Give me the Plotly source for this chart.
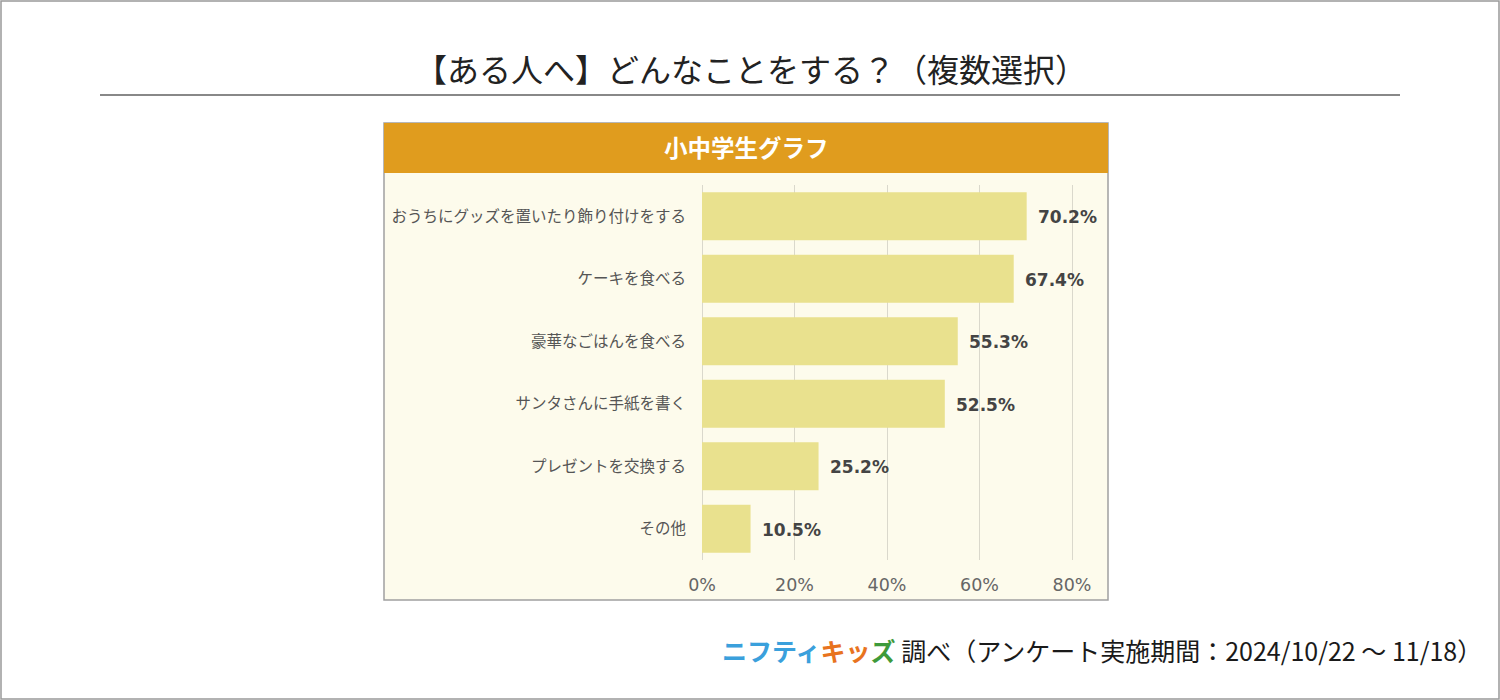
import plotly.graph_objects as go

categories = ["おうちにグッズを置いたり飾り付けをする", "ケーキを食べる", "豪華なごはんを食べる",
              "サンタさんに手紙を書く", "プレゼントを交換する", "その他"]
values = [70.2, 67.4, 55.3, 52.5, 25.2, 10.5]
tick_vals = [0, 20, 40, 60, 80]
tick_text = ["0%", "20%", "40%", "60%", "80%"]

title_text = "【ある人へ】どんなことをする？（複数選択）"
header_text = "小中学生グラフ"

W, H = 1500, 700
PL, PR, PT, PB = 702, 1100, 185, 560  # plot area in pixels
X_MAX = 80 * (PR - PL) / 370.0

def px(x):
    return (x - PL) / (PR - PL)

def py(y):
    return (PB - y) / (PB - PT)

JP = "Noto Sans CJK JP"
CREAM = "#FDFBEC"

fig = go.Figure()
fig.add_trace(go.Bar(
    x=values, y=categories, orientation="h",
    marker=dict(color="#E9E18E", line=dict(width=0)),
    hoverinfo="skip",
))

annotations = []
for c, v in zip(categories, values):
    annotations.append(dict(
        x=v, y=c, xref="x", yref="y", text=f"{v:.1f}%", showarrow=False,
        xanchor="left", xshift=9, yshift=-1,
        font=dict(family="DejaVu Sans", size=17, color="#444444", weight="bold"),
    ))

# title
annotations.append(dict(x=px(751), y=py(68), xref="paper", yref="paper", text=title_text,
                        showarrow=False, xanchor="center", yanchor="middle",
                        font=dict(family=JP, size=32, color="#222222")))
# header
annotations.append(dict(x=px(746), y=py(147), xref="paper", yref="paper", text=header_text,
                        showarrow=False, xanchor="center", yanchor="middle",
                        font=dict(family=JP, size=23.5, color="#FFFFFF", weight="bold")))
# footer
footer = ('<b><span style="color:#3AA0DC">ニフティ</span>'
          '<span style="color:#E8731E">キッ</span>'
          '<span style="color:#3E9A3A">ズ</span></b>'
          ' 調べ（アンケート実施期間：2024/10/22 ～ 11/18）')
annotations.append(dict(x=px(1484), y=py(650), xref="paper", yref="paper", text=footer,
                        showarrow=False, xanchor="right", yanchor="middle",
                        font=dict(family=JP, size=25, color="#1A1A1A")))

shapes = [
    # outer border
    dict(type="rect", xref="paper", yref="paper", x0=px(1), x1=px(1499), y0=py(1), y1=py(699),
         line=dict(color="#999999", width=1.5), fillcolor="rgba(0,0,0,0)", layer="below"),
    # title underline
    dict(type="line", xref="paper", yref="paper", x0=px(100), x1=px(1400), y0=py(95), y1=py(95),
         line=dict(color="#888888", width=2)),
    # chart box
    dict(type="rect", xref="paper", yref="paper", x0=px(384), x1=px(1108), y0=py(123), y1=py(600),
         line=dict(color="#A0A0A0", width=1.5), fillcolor=CREAM, layer="below"),
    # header
    dict(type="rect", xref="paper", yref="paper", x0=px(384), x1=px(1108), y0=py(123), y1=py(173),
         line=dict(width=0), fillcolor="#E09C1E", layer="below"),
]

fig.update_layout(
    width=W, height=H,
    margin=dict(l=PL, r=W - PR, t=PT, b=H - PB, pad=0),
    paper_bgcolor="#FFFFFF", plot_bgcolor=CREAM,
    showlegend=False, bargap=0.23,
    annotations=annotations, shapes=shapes,
    xaxis=dict(range=[0, X_MAX], tickvals=tick_vals, ticktext=tick_text,
               showgrid=True, gridcolor="#DAD8CC", gridwidth=1,
               zeroline=True, zerolinecolor="#DAD8CC", zerolinewidth=1,
               showline=False, ticks="", ticklabelstandoff=12,
               tickfont=dict(family="DejaVu Sans", size=17.5, color="#666666"), fixedrange=True),
    yaxis=dict(autorange="reversed", showgrid=False, zeroline=False, showline=False, ticks="",
               ticklabelstandoff=15,
               tickfont=dict(family=JP, size=15.5, color="#555555"), fixedrange=True),
)

fig.write_html("out.html", config={"displayModeBar": False},
               post_script="document.body.style.margin='0';document.body.style.overflow='hidden';")
